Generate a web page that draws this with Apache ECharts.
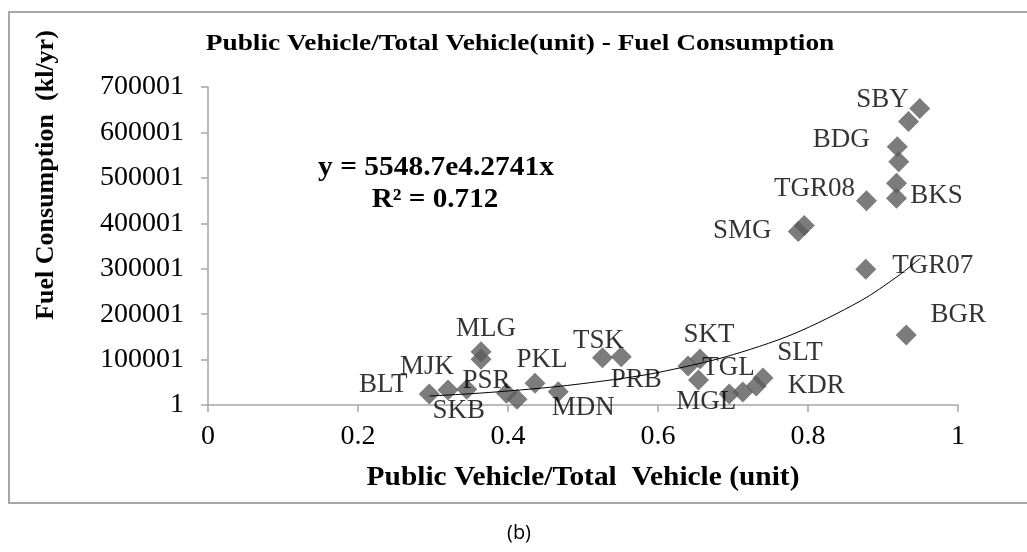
<!DOCTYPE html>
<html>
<head>
<meta charset="utf-8">
<title>Public Vehicle/Total Vehicle - Fuel Consumption</title>
<script src="https://cdn.jsdelivr.net/npm/echarts@6/dist/echarts.min.js"></script>
<style>
  html, body { margin: 0; padding: 0; background: #fff; }
  #chart { width: 1027px; height: 552px; }
</style>
</head>
<body>
<div id="chart"></div>
<script>
// city labels ('' = marker without a label)
const cityNames = ['BLT', 'MJK', 'SKB', 'PSR', '', 'MLG', '', 'PKL', 'MDN', 'TSK', 'PRB',
  '', 'SKT', 'TGL', 'MGL', '', 'KDR', 'SLT', 'SMG', '', 'TGR07', 'TGR08', 'BKS', '', '',
  'BDG', 'SBY', '', 'BGR']
// public vehicle / total vehicle ratio
const vehicleRatio = [0.295, 0.320, 0.345, 0.398, 0.412, 0.364, 0.364, 0.436, 0.467, 0.526, 0.551,
  0.640, 0.656, 0.654, 0.695, 0.713, 0.731, 0.740, 0.787, 0.795, 0.877, 0.878, 0.918, 0.918, 0.921,
  0.919, 0.934, 0.949, 0.931]
// fuel consumption (kl/yr)
const fuelUse = [24200, 33000, 34500, 25700, 12500, 117300, 100600, 47800, 29300, 104100, 106300,
  85800, 101200, 55000, 24200, 28600, 41800, 59400, 381900, 395100, 298700, 449700, 455000, 488000, 535500,
  568500, 624000, 652600, 154000]

// exponential trendline
const trendX = [0.295, 0.35, 0.40, 0.47, 0.55, 0.60, 0.69, 0.78, 0.87, 0.92, 0.95]
const trendY = [19800, 24800, 30800, 41400, 58000, 71500, 106000, 156000, 229000, 284000, 323000]

const xTickLabels = ['0', '0.2', '0.4', '0.6', '0.8', '1']
const yTickLabels = ['1', '100001', '200001', '300001', '400001', '500001', '600001', '700001']

const chartTitle = 'Public Vehicle/Total Vehicle(unit) - Fuel Consumption'
const xName = 'Public Vehicle/Total  Vehicle (unit)'
const yName = 'Fuel Consumption  (kl/yr)'
const trendEquation = 'y = 5548.7e4.2741x'
const trendR2 = 'R² = 0.712'
const caption = '(b)'

// label offsets from marker centre (px)
const labelOffset = {
  BLT: [-46, -9], MJK: [-21, -23], SKB: [-8, 22], PSR: [-20, -12], MLG: [5, -23],
  PKL: [7, -23], MDN: [25, 16], TSK: [-4, -17], PRB: [15, 23], SKT: [9, -24],
  TGL: [30, -12], MGL: [-23, 8], KDR: [60, 0], SLT: [37, -25], SMG: [-56, -1],
  TGR07: [67, -3], TGR08: [-52, -12], BKS: [40, -2], BDG: [-56, -7], SBY: [-26, -22],
  BGR: [52, -20]
}

const serif = "'Liberation Serif', 'Times New Roman', serif"

const scatterData = vehicleRatio.map((x, i) => {
  const name = cityNames[i]
  const item = { value: [x, fuelUse[i]], name: name }
  if (name) {
    item.label = { show: true, position: 'inside', offset: labelOffset[name], formatter: name }
  }
  return item
})
const trendData = trendX.map((x, i) => [x, trendY[i]])

// bold serif text, stretched a little wider like the original
const boldText = (text, x, y, size, sx, rot) => ({
  type: 'text', x: x, y: y, rotation: rot || 0, scaleX: sx,
  style: { text: text, font: 'bold ' + size + 'px ' + serif, fill: '#000', align: 'center', verticalAlign: 'middle' }
})

const chart = echarts.init(document.getElementById('chart'))
chart.setOption({
  animation: false,
  backgroundColor: '#fff',
  grid: { left: 208, right: 69, top: 87, bottom: 147 },
  xAxis: {
    type: 'value',
    min: 0,
    max: 1,
    interval: 0.2,
    axisLine: { show: true, onZero: false, lineStyle: { color: '#a6a6a6', width: 1.5 } },
    axisTick: { show: true, length: 7, lineStyle: { color: '#a6a6a6', width: 1.5 } },
    axisLabel: {
      margin: 18,
      fontFamily: serif,
      fontSize: 28,
      color: '#000',
      formatter: (v, i) => xTickLabels[i]
    },
    splitLine: { show: false }
  },
  yAxis: {
    type: 'value',
    min: 0,
    max: 700000,
    interval: 100000,
    axisLine: { show: true, lineStyle: { color: '#a6a6a6', width: 1.5 } },
    axisTick: { show: true, length: 7, lineStyle: { color: '#a6a6a6', width: 1.5 } },
    axisLabel: {
      margin: 24,
      fontFamily: serif,
      fontSize: 28,
      color: '#000',
      formatter: (v, i) => yTickLabels[i]
    },
    splitLine: { show: false }
  },
  series: [
    {
      type: 'scatter',
      symbol: 'diamond',
      symbolSize: [21, 21],
      itemStyle: { color: '#5b5b5b' },
      label: { show: false, fontFamily: serif, fontSize: 27, color: '#000' },
      data: scatterData
    },
    {
      type: 'line',
      smooth: 0.3,
      showSymbol: false,
      lineStyle: { color: '#000', width: 1 },
      data: trendData,
      z: 3
    }
  ],
  graphic: [
    {
      type: 'rect',
      shape: { x: 9, y: 12, width: 1030, height: 491 },
      style: { fill: 'none', stroke: '#a6a6a6', lineWidth: 2 },
      silent: true
    },
    boldText(chartTitle, 520, 44, 24, 1.14),
    boldText(yName, 46, 175, 26, 1, Math.PI / 2),
    boldText(xName, 583, 478, 28, 1.05),
    boldText(trendEquation, 436, 168, 27, 1.09),
    boldText(trendR2, 435, 200, 27, 1.08),
    {
      type: 'text', x: 519, y: 533,
      style: { text: caption, font: '20px "Open Sans", sans-serif', fill: '#000', align: 'center', verticalAlign: 'middle' }
    }
  ]
})
</script>
</body>
</html>
